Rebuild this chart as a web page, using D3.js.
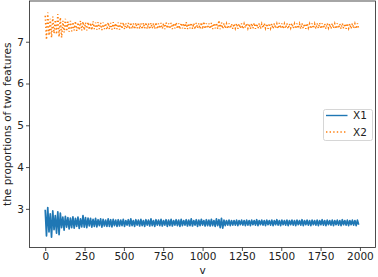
<!DOCTYPE html>
<html>
<head>
<meta charset="utf-8">
<script src="https://cdn.jsdelivr.net/npm/d3@7"></script>
<style>
  body { margin: 0; background: #fff; }
  text { font-family: "DejaVu Sans", sans-serif; fill: #222; }
</style>
</head>
<body>
<svg width="378" height="277"></svg>
<script>
// sampled every 8 steps of v
var step = 8;

var x1 = [
  2.98, 2.35, 3.03, 2.45, 2.88, 2.32, 2.95, 2.50, 2.84, 2.42,
  2.93, 2.38, 2.90, 2.55, 2.80, 2.49, 2.82, 2.56, 2.79, 2.52,
  2.78, 2.55, 2.81, 2.54, 2.77, 2.58, 2.80, 2.53, 2.76, 2.57,
  2.84, 2.56, 2.79, 2.55, 2.78, 2.59, 2.77, 2.56, 2.75, 2.58,
  2.77, 2.57, 2.74, 2.60, 2.76, 2.56, 2.75, 2.59, 2.73, 2.58,
  2.76, 2.58, 2.74, 2.57, 2.75, 2.60, 2.73, 2.58, 2.74, 2.59,
  2.73, 2.60, 2.75, 2.58, 2.72, 2.61, 2.74, 2.59, 2.76, 2.60,
  2.72, 2.58, 2.74, 2.61, 2.73, 2.59, 2.75, 2.60, 2.72, 2.58,
  2.74, 2.61, 2.73, 2.59, 2.76, 2.60, 2.72, 2.58, 2.74, 2.61,
  2.73, 2.60, 2.75, 2.59, 2.72, 2.61, 2.74, 2.58, 2.73, 2.60,
  2.75, 2.59, 2.72, 2.61, 2.74, 2.60, 2.73, 2.58, 2.75, 2.60,
  2.72, 2.61, 2.74, 2.59, 2.73, 2.60, 2.76, 2.59, 2.72, 2.61,
  2.74, 2.58, 2.73, 2.60, 2.75, 2.61, 2.72, 2.59, 2.74, 2.60,
  2.73, 2.59, 2.75, 2.60, 2.72, 2.58, 2.76, 2.60, 2.74, 2.55,
  2.77, 2.54, 2.73, 2.60, 2.72, 2.61, 2.73, 2.60, 2.72, 2.61,
  2.72, 2.61, 2.73, 2.60, 2.72, 2.62, 2.73, 2.61, 2.72, 2.60,
  2.73, 2.61, 2.72, 2.60, 2.73, 2.62, 2.72, 2.61, 2.74, 2.60,
  2.72, 2.62, 2.73, 2.61, 2.72, 2.60, 2.73, 2.62, 2.72, 2.61,
  2.73, 2.60, 2.72, 2.62, 2.74, 2.61, 2.72, 2.60, 2.73, 2.62,
  2.72, 2.61, 2.73, 2.60, 2.72, 2.62, 2.73, 2.61, 2.72, 2.60,
  2.73, 2.62, 2.72, 2.61, 2.74, 2.60, 2.72, 2.62, 2.73, 2.61,
  2.72, 2.60, 2.73, 2.62, 2.72, 2.61, 2.73, 2.60, 2.72, 2.62,
  2.74, 2.61, 2.72, 2.60, 2.73, 2.62, 2.72, 2.61, 2.73, 2.60,
  2.72, 2.62, 2.73, 2.61, 2.72, 2.60, 2.74, 2.62, 2.72, 2.61,
  2.73, 2.60, 2.72, 2.62, 2.73, 2.61, 2.72, 2.60, 2.73, 2.62
];

var x2 = [
  7.62, 7.05, 7.70, 7.15, 7.55, 7.10, 7.60, 7.20, 7.52, 7.18,
  7.66, 7.12, 7.58, 7.10, 7.50, 7.22, 7.55, 7.25, 7.48, 7.24,
  7.50, 7.25, 7.47, 7.27, 7.49, 7.26, 7.46, 7.28, 7.50, 7.27,
  7.48, 7.28, 7.46, 7.27, 7.47, 7.29, 7.45, 7.28, 7.49, 7.30,
  7.46, 7.29, 7.47, 7.30, 7.45, 7.28, 7.46, 7.30, 7.44, 7.29,
  7.46, 7.30, 7.45, 7.29, 7.47, 7.31, 7.44, 7.30, 7.46, 7.29,
  7.45, 7.31, 7.46, 7.30, 7.44, 7.32, 7.45, 7.30, 7.46, 7.31,
  7.44, 7.30, 7.45, 7.32, 7.46, 7.31, 7.44, 7.30, 7.45, 7.32,
  7.46, 7.31, 7.44, 7.30, 7.45, 7.32, 7.44, 7.31, 7.46, 7.30,
  7.44, 7.32, 7.45, 7.31, 7.44, 7.30, 7.46, 7.32, 7.44, 7.31,
  7.45, 7.30, 7.44, 7.32, 7.46, 7.31, 7.44, 7.30, 7.45, 7.32,
  7.44, 7.31, 7.47, 7.30, 7.44, 7.32, 7.45, 7.31, 7.44, 7.30,
  7.45, 7.32, 7.44, 7.31, 7.46, 7.30, 7.48, 7.31, 7.44, 7.32,
  7.44, 7.31, 7.45, 7.30, 7.44, 7.32, 7.45, 7.31, 7.51, 7.30,
  7.46, 7.31, 7.44, 7.32, 7.43, 7.31, 7.44, 7.32, 7.43, 7.31,
  7.43, 7.32, 7.44, 7.31, 7.43, 7.32, 7.44, 7.31, 7.43, 7.33,
  7.44, 7.32, 7.43, 7.31, 7.44, 7.32, 7.45, 7.31, 7.43, 7.32,
  7.44, 7.31, 7.43, 7.33, 7.44, 7.32, 7.43, 7.31, 7.44, 7.32,
  7.43, 7.31, 7.44, 7.32, 7.43, 7.31, 7.45, 7.32, 7.44, 7.31,
  7.43, 7.32, 7.44, 7.31, 7.43, 7.33, 7.44, 7.32, 7.43, 7.31,
  7.44, 7.32, 7.43, 7.31, 7.44, 7.32, 7.43, 7.31, 7.44, 7.33,
  7.43, 7.31, 7.44, 7.32, 7.43, 7.31, 7.44, 7.32, 7.45, 7.31,
  7.44, 7.32, 7.43, 7.31, 7.44, 7.33, 7.43, 7.31, 7.44, 7.32,
  7.43, 7.31, 7.44, 7.32, 7.43, 7.31, 7.44, 7.32, 7.43, 7.31,
  7.44, 7.32, 7.43, 7.31, 7.44, 7.32, 7.43, 7.31, 7.44, 7.32
];

var xTicks = [0, 250, 500, 750, 1000, 1250, 1500, 1750, 2000];
var yTicks = [3, 4, 5, 6, 7];
var seriesNames = ["X1", "X2"];
var seriesColors = ["#1f77b4", "#ff7f0e"];

var svg = d3.select("svg");
var pLeft = 29.5, pRight = 375.5, pTop = 1, pBottom = 247.5;

var x = d3.scaleLinear().domain([-99.95, 2098.95]).range([pLeft, pRight]);
var y = d3.scaleLinear().domain([2.075, 7.975]).range([pBottom, pTop]);

var line = d3.line()
    .x(function(d, i) { return x(i * step); })
    .y(function(d) { return y(d); });

svg.append("defs").append("clipPath").attr("id", "clip")
  .append("rect").attr("x", pLeft).attr("y", pTop)
  .attr("width", pRight - pLeft).attr("height", pBottom - pTop);

var plot = svg.append("g").attr("clip-path", "url(#clip)");

plot.append("path")
    .datum(x1)
    .attr("d", line)
    .attr("fill", "none")
    .attr("stroke", seriesColors[0])
    .attr("stroke-width", 1.7)
    .attr("stroke-linejoin", "round");

plot.append("path")
    .datum(x2)
    .attr("d", line)
    .attr("fill", "none")
    .attr("stroke", seriesColors[1])
    .attr("stroke-width", 1.5)
    .attr("stroke-dasharray", "1.4,2.2");

// axes
var xAxis = svg.append("g")
    .attr("transform", "translate(0," + pBottom + ")")
    .call(d3.axisBottom(x).tickValues(xTicks).tickSize(3.5).tickPadding(2).tickFormat(d3.format("d")));
var yAxis = svg.append("g")
    .attr("transform", "translate(" + pLeft + ",0)")
    .call(d3.axisLeft(y).tickValues(yTicks).tickSize(3.5).tickPadding(2).tickFormat(d3.format("d")));

[xAxis, yAxis].forEach(function(a) {
  a.select(".domain").remove();
  a.selectAll("line").attr("stroke", "#222").attr("stroke-width", 0.8);
  a.selectAll("text").style("font-size", "10.5px").attr("fill", "#222");
});

svg.append("rect")
    .attr("x", pLeft).attr("y", pTop)
    .attr("width", pRight - pLeft).attr("height", pBottom - pTop)
    .attr("fill", "none").attr("stroke", "#222").attr("stroke-width", 0.8);

svg.append("text")
    .attr("x", (pLeft + pRight) / 2).attr("y", 274)
    .attr("text-anchor", "middle")
    .style("font-size", "10.5px")
    .text("v");

svg.append("text")
    .attr("transform", "translate(11," + ((pTop + pBottom) / 2) + ") rotate(-90)")
    .attr("text-anchor", "middle")
    .style("font-size", "10.5px")
    .text("the proportions of two features");

// legend
var lg = svg.append("g");
lg.append("rect")
    .attr("x", 323.5).attr("y", 109.5)
    .attr("width", 49).attr("height", 31)
    .attr("rx", 2)
    .attr("fill", "#fff").attr("fill-opacity", 0.8)
    .attr("stroke", "#ccc").attr("stroke-width", 0.8);

seriesNames.forEach(function(name, i) {
  var yy = 115.5 + i * 16.5;
  lg.append("line")
      .attr("x1", 326).attr("x2", 347.5)
      .attr("y1", yy).attr("y2", yy)
      .attr("stroke", seriesColors[i])
      .attr("stroke-width", 1.4)
      .attr("stroke-dasharray", i === 1 ? "1.4,2.2" : null);
  lg.append("text")
      .attr("x", 353).attr("y", yy + 3.8)
      .style("font-size", "10.5px")
      .text(name);
});
</script>
</body>
</html>
